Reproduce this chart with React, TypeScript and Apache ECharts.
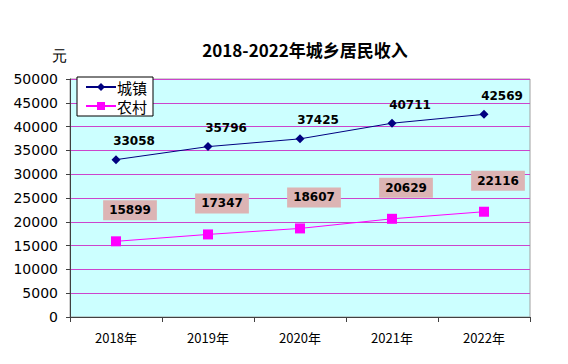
import React, { useEffect, useRef } from "react";
import * as echarts from "echarts";

const categories = ["2018年", "2019年", "2020年", "2021年", "2022年"];
const urban = [33058, 35796, 37425, 40711, 42569];
const rural = [15899, 17347, 18607, 20629, 22116];
const seriesNames = ["城镇", "农村"];
const titleText = "2018-2022年城乡居民收入";
const unitText = "元";

export default function App() {
  const ref = useRef<HTMLDivElement>(null);
  useEffect(() => {
    const chart = echarts.init(ref.current!, null, { renderer: "svg" });
    const font = "DejaVu Sans";
    chart.setOption({
      animation: false,
      backgroundColor: "#ffffff",
      title: {
        text: titleText,
        left: 300,
        top: 36,
        textAlign: "center",
        textStyle: { fontSize: 17, fontWeight: "bold", color: "#000", fontFamily: "Noto Sans CJK SC" },
      },
      graphic: [
        {
          type: "text",
          left: 52,
          top: 48,
          style: { text: unitText, fontSize: 15, fill: "#000", font: "15px 'Noto Sans CJK SC'" },
        },
      ],
      legend: {
        orient: "vertical",
        left: 77,
        top: 77,
        backgroundColor: "#ffffff",
        borderColor: "#000000",
        borderWidth: 1,
        borderRadius: 0,
        padding: [2, 6, 2, 8],
        itemGap: 3,
        itemWidth: 30,
        itemHeight: 10,
        textStyle: { fontSize: 15, color: "#000", fontFamily: "Noto Sans CJK SC", padding: [0, 0, 0, -4], lineHeight: 16 },
        data: seriesNames,
      },
      grid: {
        left: 70,
        top: 79,
        width: 460,
        height: 238,
        show: true,
        backgroundColor: "#ccffff",
        borderColor: "#a0a0a0",
        borderWidth: 1,
      },
      xAxis: {
        type: "category",
        data: categories,
        boundaryGap: true,
        axisLine: { lineStyle: { color: "#404040", width: 1 } },
        axisTick: { show: true, length: 5, lineStyle: { color: "#404040" } },
        axisLabel: { fontSize: 13, color: "#000", fontFamily: "Noto Sans CJK SC", margin: 14 },
      },
      yAxis: {
        type: "value",
        min: 0,
        max: 50000,
        interval: 5000,
        axisLine: { show: true, lineStyle: { color: "#404040", width: 1 } },
        axisTick: { show: true, length: 4, lineStyle: { color: "#404040" } },
        axisLabel: {
          fontSize: 14,
          color: "#000",
          fontFamily: font,
          margin: 12,
          formatter: (v: number) => String(v),
        },
        splitLine: { show: true, lineStyle: { color: "#cc44cc", width: 1 } },
      },
      series: [
        {
          name: seriesNames[0],
          type: "line",
          data: urban,
          symbol: "diamond",
          symbolSize: 9,
          itemStyle: { color: "#000080" },
          lineStyle: { color: "#000080", width: 1 },
          label: {
            show: true,
            position: "top",
            offset: [18, -3],
            fontSize: 12,
            fontWeight: "bold",
            color: "#000",
            fontFamily: font,
          },
        },
        {
          name: seriesNames[1],
          type: "line",
          data: rural,
          symbol: "rect",
          symbolSize: 10,
          itemStyle: { color: "#ff00ff" },
          lineStyle: { color: "#ff00ff", width: 1 },
          label: {
            show: true,
            position: "top",
            distance: 10,
            offset: [14, -6],
            fontSize: 12,
            fontWeight: "bold",
            color: "#000",
            fontFamily: font,
            backgroundColor: "#dcb4b4",
            padding: [4, 6, 4, 6],
          },
        },
      ],
    });
    return () => chart.dispose();
  }, []);
  return (
    <div
      ref={ref}
      style={{ position: "fixed", left: 0, top: 0, width: 568, height: 364 }}
    />
  );
}
